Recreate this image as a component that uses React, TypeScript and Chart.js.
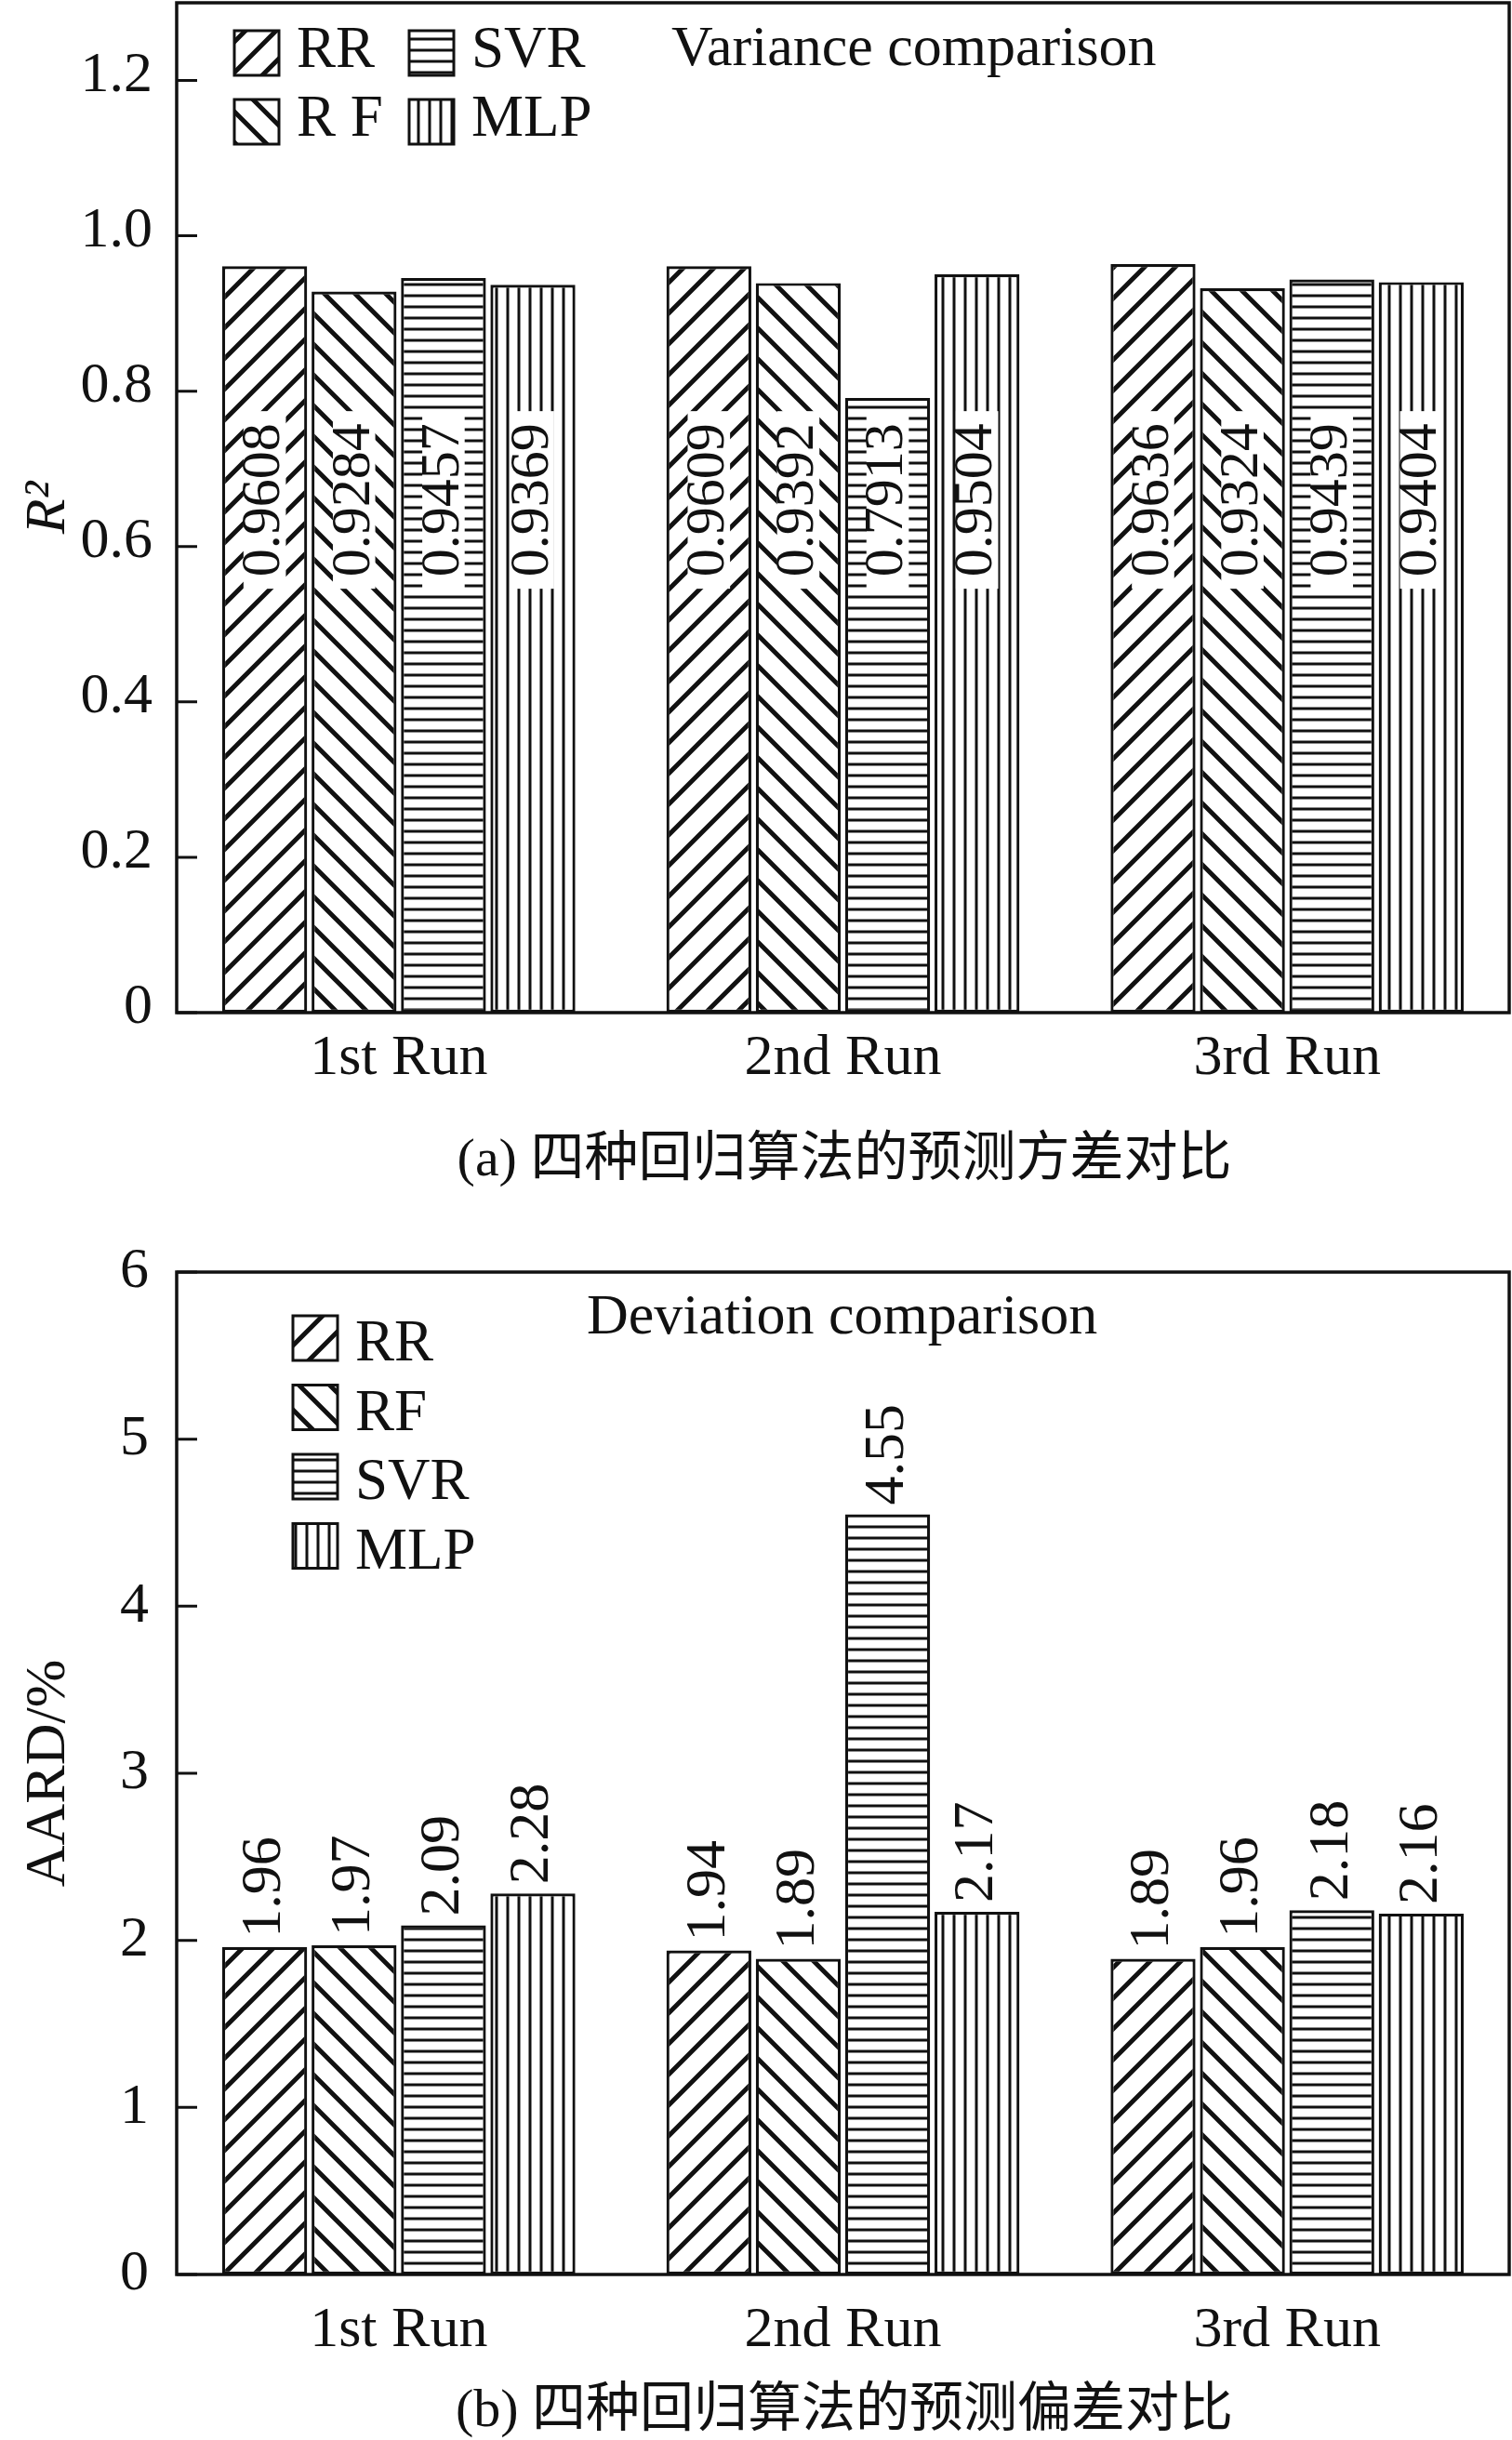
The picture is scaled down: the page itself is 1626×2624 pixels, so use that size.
import React, { useEffect, useRef } from 'react';
import { Chart, registerables } from 'chart.js';

Chart.register(...registerables);

// ---------------- data ----------------
const RUNS = ['1st Run', '2nd Run', '3rd Run'];
const SERIES = ['RR', 'RF', 'SVR', 'MLP'];
const LEGEND_A = ['RR', 'R F', 'SVR', 'MLP'];

const R2_RR = [0.9608, 0.9609, 0.9636];
const R2_RF = [0.9284, 0.9392, 0.9324];
const R2_SVR = [0.9457, 0.7913, 0.9439];
const R2_MLP = [0.9369, 0.9504, 0.9404];

const AARD_RR = [1.96, 1.94, 1.89];
const AARD_RF = [1.97, 1.89, 1.96];
const AARD_SVR = [2.09, 4.55, 2.18];
const AARD_MLP = [2.28, 2.17, 2.16];

const R2_TICKS = [0, 0.2, 0.4, 0.6, 0.8, 1.0, 1.2];
const R2_TICK_LABELS = ['0', '0.2', '0.4', '0.6', '0.8', '1.0', '1.2'];
const AARD_TICKS = [0, 1, 2, 3, 4, 5, 6];
const AARD_TICK_LABELS = ['0', '1', '2', '3', '4', '5', '6'];

const TITLE_A = 'Variance comparison';
const TITLE_B = 'Deviation comparison';
const CAPTION_A = '(a) 四种回归算法的预测方差对比';
const CAPTION_B = '(b) 四种回归算法的预测偏差对比';
const YTITLE_A = 'R²';
const YTITLE_B = 'AARD/%';

// ---------------- styling ----------------
const INK = '#111111';
const SERIF = '"Liberation Serif", "Times New Roman", serif';
const CAPTION_FONT = '58px "Liberation Serif", "Noto Sans CJK SC", sans-serif';
const PATTERN_KINDS = ['fwd', 'back', 'horiz', 'vert'];

function hatch(kind: string): CanvasPattern | string {
  const c = document.createElement('canvas');
  const ctx = c.getContext('2d');
  if (!ctx) return '#fff';
  if (kind === 'fwd' || kind === 'back') {
    const S = 33;
    c.width = S;
    c.height = S;
    ctx.fillStyle = '#fff';
    ctx.fillRect(0, 0, S, S);
    ctx.strokeStyle = INK;
    ctx.lineWidth = 5;
    ctx.beginPath();
    for (let k = 0; k <= 2; k++) {
      if (kind === 'fwd') {
        ctx.moveTo(k * S - S - 3, S + 3);
        ctx.lineTo(k * S + 3, -3);
      } else {
        ctx.moveTo(k * S - S - 3, -3);
        ctx.lineTo(k * S + 3, S + 3);
      }
    }
    ctx.stroke();
  } else if (kind === 'horiz') {
    c.width = 12;
    c.height = 12;
    ctx.fillStyle = '#fff';
    ctx.fillRect(0, 0, 12, 12);
    ctx.fillStyle = INK;
    ctx.fillRect(0, 4.5, 12, 3);
  } else {
    c.width = 12;
    c.height = 12;
    ctx.fillStyle = '#fff';
    ctx.fillRect(0, 0, 12, 12);
    ctx.fillStyle = INK;
    ctx.fillRect(4.5, 0, 3, 12);
  }
  return ctx.createPattern(c, 'repeat') || '#fff';
}

const decorPlugin = {
  id: 'decor',
  afterDatasetsDraw(chart: any, _args: any, opts: any) {
    const ctx: CanvasRenderingContext2D = chart.ctx;
    const yScale = chart.scales.y;
    const L = opts.labels;
    chart.data.datasets.forEach((ds: any, di: number) => {
      const meta = chart.getDatasetMeta(di);
      meta.data.forEach((bar: any, i: number) => {
        const v = ds.data[i];
        const text = Number(v).toFixed(L.digits);
        ctx.save();
        ctx.font = `${L.size}px ${SERIF}`;
        const inside = L.mode === 'inside';
        const px = bar.x;
        const py = inside ? yScale.getPixelForValue(L.anchor) : bar.y - L.gap;
        ctx.translate(px, py);
        ctx.rotate(-Math.PI / 2);
        const w = ctx.measureText(text).width;
        if (inside) {
          ctx.fillStyle = '#ffffff';
          ctx.fillRect(-w / 2 - 13, -0.38 * L.size, w + 26, 0.76 * L.size);
          ctx.textAlign = 'center';
        } else {
          ctx.textAlign = 'left';
        }
        ctx.textBaseline = 'middle';
        ctx.fillStyle = INK;
        ctx.fillText(text, 0, 0);
        ctx.restore();
      });
    });
  },
  afterDraw(chart: any, _args: any, opts: any) {
    const ctx: CanvasRenderingContext2D = chart.ctx;
    const area = chart.chartArea;
    const yScale = chart.scales.y;
    ctx.save();
    // frame
    ctx.strokeStyle = INK;
    ctx.lineWidth = 3.5;
    ctx.strokeRect(area.left, area.top, area.right - area.left, area.bottom - area.top);
    // inward ticks on y axis
    ctx.lineWidth = 3;
    ctx.beginPath();
    yScale.ticks.forEach((t: any) => {
      const py = yScale.getPixelForValue(t.value);
      ctx.moveTo(area.left, py);
      ctx.lineTo(area.left + 22, py);
    });
    ctx.stroke();
    // legend
    const lg = opts.legend;
    chart.data.datasets.forEach((ds: any, i: number) => {
      const col = Math.floor(i / lg.rows);
      const row = i % lg.rows;
      const bx = lg.x0 + col * lg.colDx;
      const by = lg.y0 + row * lg.rowDy;
      ctx.fillStyle = ds.backgroundColor;
      ctx.fillRect(bx, by, lg.box, lg.box);
      ctx.strokeStyle = INK;
      ctx.lineWidth = 3;
      ctx.strokeRect(bx, by, lg.box, lg.box);
      ctx.fillStyle = INK;
      ctx.font = `${lg.size}px ${SERIF}`;
      ctx.textAlign = 'left';
      ctx.textBaseline = 'alphabetic';
      ctx.fillText(lg.labels[i], bx + lg.textDx, by + lg.baseDy);
    });
    // in-plot title
    const tt = opts.title;
    ctx.font = `${tt.size}px ${SERIF}`;
    ctx.fillStyle = INK;
    ctx.textAlign = 'left';
    ctx.textBaseline = 'alphabetic';
    ctx.fillText(tt.text, tt.x, tt.y);
    // caption
    const cp = opts.caption;
    ctx.font = CAPTION_FONT;
    ctx.textAlign = 'center';
    ctx.fillText(cp.text, cp.x, cp.y);
    ctx.restore();
  },
};

function buildConfig(p: {
  series: number[][];
  ticks: number[];
  tickLabels: string[];
  max: number;
  yTitle: string;
  yTitleItalic: boolean;
  topPad: number;
  canvasH: number;
  bottomPx: number;
  xPad: number;
  yPad: number;
  labelOffset: number;
  decor: any;
}) {
  const patterns = PATTERN_KINDS.map(hatch);
  return {
    type: 'bar',
    data: {
      labels: RUNS,
      datasets: SERIES.map((name, i) => ({
        label: name,
        data: p.series[i],
        backgroundColor: patterns[i],
        borderColor: INK,
        borderWidth: 3.2,
        borderSkipped: false,
        barPercentage: 0.95,
        categoryPercentage: 0.805,
      })),
    },
    options: {
      responsive: false,
      animation: false,
      devicePixelRatio: 1,
      layout: { padding: { left: 0, right: 3, top: p.topPad, bottom: 0 } },
      plugins: {
        legend: { display: false },
        tooltip: { enabled: false },
        decor: p.decor,
      },
      scales: {
        x: {
          type: 'category',
          grid: { display: false, drawTicks: false },
          border: { display: false },
          ticks: {
            color: INK,
            padding: p.xPad,
            font: { family: SERIF, size: 62 },
            maxRotation: 0,
            autoSkip: false,
          },
          afterFit: (s: any) => {
            s.height = p.canvasH - p.bottomPx;
            s.paddingLeft = 0;
            s.paddingRight = 0;
          },
        },
        y: {
          min: 0,
          max: p.max,
          grid: { display: false, drawTicks: false },
          border: { display: false },
          afterBuildTicks: (s: any) => {
            s.ticks = p.ticks.map((v) => ({ value: v }));
          },
          ticks: {
            color: INK,
            padding: p.yPad,
            labelOffset: p.labelOffset,
            font: { family: SERIF, size: 62 },
            callback: (_v: any, i: number) => p.tickLabels[i],
          },
          title: {
            display: true,
            text: p.yTitle,
            color: INK,
            padding: { top: 16, bottom: 0 },
            font: { family: SERIF, size: 62, style: p.yTitleItalic ? 'italic' : 'normal' },
          },
          afterFit: (s: any) => {
            s.width = 190;
            s.paddingTop = 0;
            s.paddingBottom = 0;
          },
        },
      },
    },
    plugins: [decorPlugin],
  } as any;
}

const A_H = 1300;
const B_TOP = 1300;
const B_H = 1324;

export default function App() {
  const refA = useRef<HTMLCanvasElement | null>(null);
  const refB = useRef<HTMLCanvasElement | null>(null);

  useEffect(() => {
    if (!refA.current || !refB.current) return;
    const chartA = new Chart(
      refA.current,
      buildConfig({
        series: [R2_RR, R2_RF, R2_SVR, R2_MLP],
        ticks: R2_TICKS,
        tickLabels: R2_TICK_LABELS,
        max: 1.3,
        yTitle: YTITLE_A,
        yTitleItalic: true,
        topPad: 3,
        canvasH: A_H,
        bottomPx: 1089,
        xPad: 13,
        yPad: 26,
        labelOffset: -5,
        decor: {
          labels: { mode: 'inside', anchor: 0.66, digits: 4, size: 60, gap: 0 },
          legend: { x0: 252, y0: 33, colDx: 188, rowDy: 74, rows: 2, box: 48, textDx: 67, baseDy: 39, size: 63, labels: LEGEND_A },
          title: { text: TITLE_A, x: 722, y: 70, size: 62 },
          caption: { text: CAPTION_A, x: 908, y: 1264 },
        },
      })
    );
    const chartB = new Chart(
      refB.current,
      buildConfig({
        series: [AARD_RR, AARD_RF, AARD_SVR, AARD_MLP],
        ticks: AARD_TICKS,
        tickLabels: AARD_TICK_LABELS,
        max: 6,
        yTitle: YTITLE_B,
        yTitleItalic: false,
        topPad: 1368 - B_TOP,
        canvasH: B_H,
        bottomPx: 2446 - B_TOP,
        xPad: 24,
        yPad: 30,
        labelOffset: 0,
        decor: {
          labels: { mode: 'above', anchor: 0, digits: 2, size: 62, gap: 10 },
          legend: { x0: 315, y0: 1415 - B_TOP, colDx: 0, rowDy: 74.5, rows: 4, box: 48, textDx: 67, baseDy: 48, size: 63, labels: SERIES },
          title: { text: TITLE_B, x: 631, y: 1434 - B_TOP, size: 62 },
          caption: { text: CAPTION_B, x: 908, y: 2609 - B_TOP },
        },
      })
    );
    return () => {
      chartA.destroy();
      chartB.destroy();
    };
  }, []);

  return (
    <div style={{ position: 'absolute', left: 0, top: 0, width: 1626, height: 2624, background: '#fff' }}>
      <canvas ref={refA} width={1626} height={A_H} style={{ position: 'absolute', left: 0, top: 0 }} />
      <canvas ref={refB} width={1626} height={B_H} style={{ position: 'absolute', left: 0, top: B_TOP }} />
    </div>
  );
}
